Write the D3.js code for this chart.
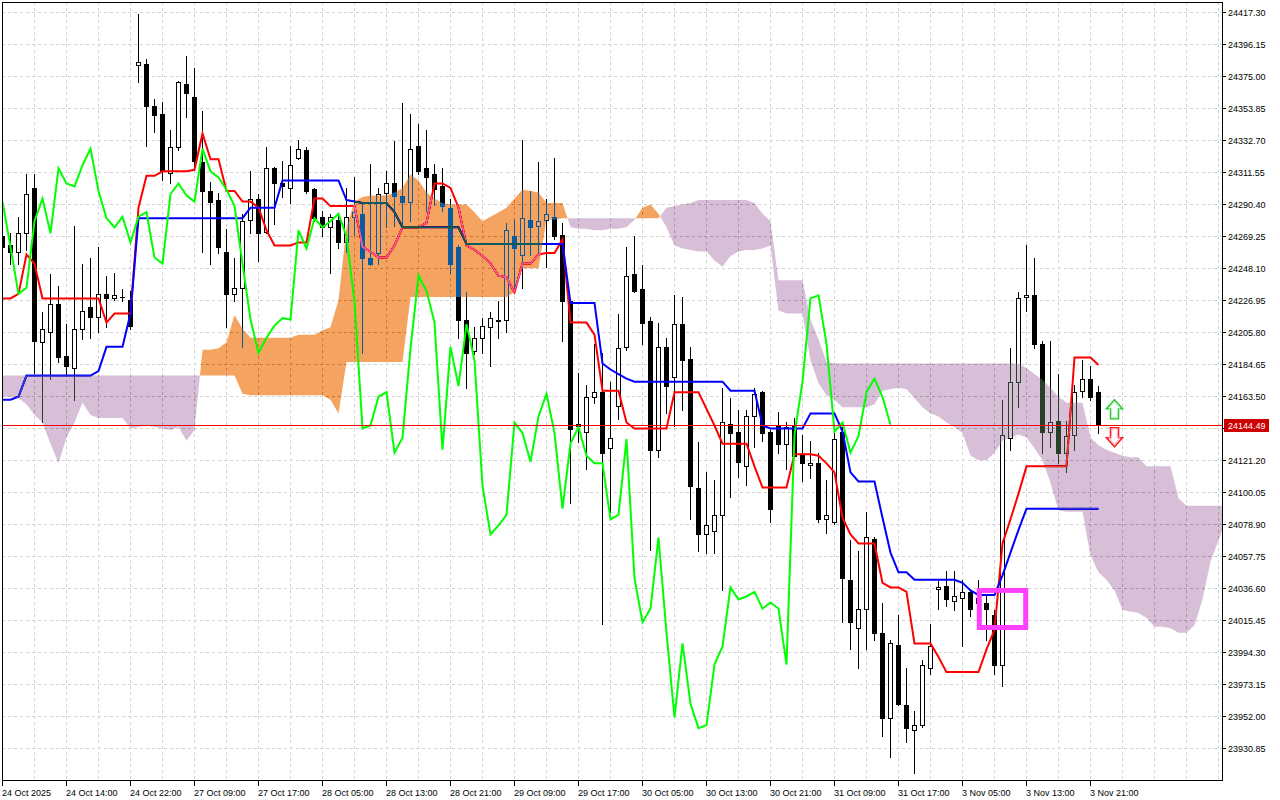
<!DOCTYPE html>
<html><head><meta charset="utf-8">
<script src="https://cdn.jsdelivr.net/npm/d3@7"></script>
<style>
html,body{margin:0;padding:0;background:#fff;}
svg{display:block;}
text{font-family:"Liberation Sans",Arial,sans-serif;}
</style></head><body>
<svg id="c" width="1280" height="800"></svg>
<script>
// ---------- data (H1 candles, Ichimoku) ----------
const opens=[24269,24263,24259,24271,24301,24199,24206,24224,24190,24182,
24208,24222,24216,24231,24228,24229,24227,24382,24383,24355,
24350,24311,24328,24370,24361,24318,24299,24293,24259,24231,
24235,24280,24294,24272,24314,24304,24301,24321,24326,24300,
24282,24275,24280,24265,24282,24284,24255,24258,24298,24304,
24296,24292,24329,24314,24310,24302,24288,24262,24214,24193,
24202,24209,24213,24214,24269,24257,24280,24276,24280,24282,
24270,24226,24145,24140,24163,24166,24129,24157,24196,24244,
24234,24213,24128,24196,24176,24211,24188,24103,24072,24074,
24085,24145,24140,24117,24150,24166,24140,24144,24132,24144,
24125,24118,24119,24082,24080,24140,24042,24010,24023,24069,
24007,23951,23999,23959,23943,23946,23984,24036,24038,24028,
24030,24034,24030,24027,24019,23986,24136,24173,24229,24230,
24198,24140,24147,24126,24138,24167,24175,24166];
const highs=[24275,24271,24282,24310,24310,24219,24244,24236,24211,24276,
24251,24255,24262,24243,24245,24234,24233,24416,24386,24360,
24358,24339,24372,24388,24380,24352,24305,24298,24274,24255,
24284,24312,24297,24328,24315,24319,24329,24333,24328,24301,
24286,24284,24284,24301,24308,24292,24317,24301,24312,24332,
24357,24350,24343,24339,24317,24314,24294,24263,24232,24209,
24215,24219,24226,24278,24280,24333,24299,24318,24294,24321,
24278,24227,24179,24171,24198,24192,24173,24218,24262,24269,
24250,24216,24212,24202,24230,24229,24196,24133,24113,24108,
24169,24162,24154,24154,24169,24167,24141,24153,24146,24149,
24138,24134,24126,24108,24140,24143,24068,24061,24087,24070,
24027,24002,24019,23984,23955,23989,24013,24041,24048,24048,
24042,24035,24042,24032,24022,24161,24195,24232,24263,24255,
24200,24200,24178,24147,24171,24187,24183,24170];
const lows=[24256,24251,24251,24260,24179,24146,24175,24186,24177,24161,
24201,24202,24206,24209,24227,24226,24208,24371,24329,24338,
24306,24304,24326,24348,24315,24259,24251,24258,24209,24226,
24196,24271,24253,24271,24277,24295,24291,24320,24298,24279,
24269,24245,24261,24259,24270,24192,24250,24251,24275,24276,
24276,24279,24310,24286,24290,24286,24245,24202,24169,24191,
24192,24183,24202,24206,24235,24235,24257,24257,24249,24267,
24200,24093,24133,24115,24159,24013,24087,24148,24194,24232,
24198,24062,24123,24152,24144,24154,24082,24061,24060,24060,
24035,24097,24110,24105,24130,24134,24080,24126,24115,24123,
24107,24109,24080,24073,24079,24014,23996,23984,23996,24002,
23939,23925,23959,23935,23914,23945,23980,24023,24025,24022,
23998,24018,24019,24002,23980,23972,24128,24156,24220,24195,
24126,24130,24119,24113,24128,24163,24161,24139];
const closes=[24262,24259,24271,24297,24200,24208,24224,24189,24183,24208,
24220,24216,24231,24228,24230,24229,24210,24384,24355,24349,
24312,24328,24371,24364,24319,24299,24292,24262,24231,24235,
24279,24294,24271,24314,24304,24302,24316,24327,24299,24281,
24275,24282,24265,24282,24285,24255,24251,24297,24304,24296,
24292,24327,24312,24308,24300,24289,24251,24214,24192,24202,
24210,24215,24214,24273,24261,24281,24275,24279,24284,24269,
24226,24142,24144,24163,24166,24126,24136,24195,24243,24233,
24212,24128,24196,24170,24211,24187,24104,24072,24078,24085,
24146,24139,24120,24150,24165,24139,24089,24132,24143,24124,
24119,24119,24082,24085,24135,24043,24014,24023,24070,24007,
23951,24000,23960,23944,23946,23986,23998,24037,24029,24031,
24034,24023,24027,24023,23986,24138,24173,24228,24230,24198,
24140,24146,24126,24137,24166,24175,24163,24144.49];
const tenkan=[24228,24228,24231,24257,24251,24228,24228,24228,24228,24228,
24228,24228,24228,24212,24218,24218,24218,24288,24309,24309,
24312,24312,24312,24312,24313,24337,24320,24320,24299,24299,
24292,24292,24288,24273,24263,24263,24263,24265,24265,24294,
24294,24289,24289,24289,24289,24262,24259,24255,24255,24263,
24275,24275,24275,24278,24304,24304,24301,24288,24263,24260,
24256,24251,24243,24242,24232,24251,24251,24257,24258,24258,
24267,24212,24212,24212,24204,24167,24167,24167,24146,24142,
24142,24142,24142,24142,24166,24166,24166,24166,24155,24144,
24132,24132,24132,24132,24117,24103,24103,24103,24103,24125,
24125,24125,24124,24119,24113,24083,24072,24066,24066,24066,
24040,24037,24037,24034,24000,24000,24000,23991,23981,23981,
23981,23981,23981,23996,24009,24066,24082,24099,24117,24117,
24117,24117,24117,24117,24189,24189,24189,24184];
const kijun=[24161,24161,24163,24177,24177,24177,24177,24177,24177,24177,
24177,24177,24180,24196,24196,24196,24218,24281,24281,24281,
24281,24281,24281,24281,24281,24281,24281,24281,24281,24281,
24281,24288,24288,24288,24288,24306,24306,24306,24306,24306,
24306,24306,24306,24293,24292,24291,24291,24291,24291,24285,
24275,24275,24275,24275,24275,24275,24275,24275,24264,24264,
24264,24264,24264,24264,24264,24264,24264,24264,24264,24264,
24264,24225,24225,24225,24225,24185,24181,24178,24175,24173,
24173,24173,24173,24173,24173,24173,24173,24173,24173,24173,
24173,24167,24167,24167,24167,24144,24142,24142,24142,24142,
24142,24152,24152,24152,24152,24140,24113,24107,24107,24107,
24083,24060,24047,24047,24042,24042,24042,24042,24042,24042,
24040,24035,24032,24032,24032,24045,24060,24075,24089,24089,
24089,24089,24089,24089,24089,24089,24089,24089];
// Chikou span: plotted 26 bars back
const chikou=[24292,24262,24231,24235,24279,24294,24271,24314,24304,24302,
24316,24327,24299,24281,24275,24282,24265,24282,24285,24255,
24251,24297,24304,24296,24292,24327,24312,24308,24300,24289,
24251,24214,24192,24202,24210,24215,24214,24273,24261,24281,
24275,24279,24284,24269,24226,24142,24144,24163,24166,24126,
24136,24195,24243,24233,24212,24128,24196,24170,24211,24187,
24104,24072,24078,24085,24146,24139,24120,24150,24165,24139,
24089,24132,24143,24124,24119,24119,24082,24085,24135,24043,
24014,24023,24070,24007,23951,24000,23960,23944,23946,23986,
23998,24037,24029,24031,24034,24023,24027,24023,23986,24138,
24173,24228,24230,24198,24140,24146,24126,24137,24166,24175,
24163,24144.49];
// Senkou spans (already shifted forward 26 bars)
const spanA=[24163,24163,24162,24158,24151,24146,24132,24119,24136,24146,
24159,24151,24149,24149,24149,24149,24142,24143,24144,24143,
24142,24141,24143,24134,24141,24194,24194,24195,24199,24217,
24208,24202,24202,24202,24202,24202,24202,24204,24204,24204,
24207,24209,24227,24275,24292,24295,24296,24296,24296,24298,
24301,24310,24306,24298,24294,24291,24290,24290,24290,24285,
24279,24282,24285,24288,24294,24300,24299,24298,24291,24291,
24291,24275,24274,24274,24273,24273,24274,24274,24275,24280,
24288,24290,24284,24275,24263,24261,24260,24259,24259,24253,
24249,24256,24259,24260,24260,24261,24263,24220,24218,24218,
24218,24187,24172,24164,24161,24156,24156,24156,24156,24158,
24167,24168,24169,24168,24162,24156,24152,24150,24146,24143,
24139,24124,24121,24121,24126,24134,24136,24138,24136,24129,
24121,24106,24088,24087,24087,24087,24058,24047,24042,24035,
24022,24021,24020,24017,24011,24011,24010,24007,24007,24012,
24029,24054,24068,24082];
const spanB=[24177,24177,24177,24177,24177,24177,24177,24177,24177,24177,
24177,24177,24177,24177,24177,24177,24177,24177,24177,24177,
24177,24177,24177,24177,24177,24177,24177,24177,24177,24177,
24165,24164,24164,24164,24164,24164,24164,24164,24164,24164,
24164,24161,24152,24186,24186,24186,24186,24186,24186,24186,
24186,24229,24229,24229,24229,24229,24229,24229,24229,24229,
24229,24229,24229,24229,24232,24248,24248,24248,24280,24280,
24281,24281,24281,24281,24281,24281,24281,24281,24281,24281,
24281,24281,24281,24288,24289,24290,24291,24293,24293,24293,
24293,24293,24293,24293,24291,24284,24279,24240,24240,24240,
24240,24214,24201,24186,24185,24185,24185,24185,24185,24185,
24185,24185,24185,24185,24185,24185,24185,24185,24185,24185,
24185,24185,24185,24185,24185,24185,24185,24185,24182,24178,
24174,24169,24163,24159,24159,24159,24136,24131,24128,24126,
24124,24123,24123,24117,24117,24117,24117,24096,24091,24091,
24091,24091,24091,24091];
const timeLabels=["24 Oct 2025","24 Oct 14:00","24 Oct 22:00","27 Oct 09:00","27 Oct 17:00",
"28 Oct 05:00","28 Oct 13:00","28 Oct 21:00","29 Oct 09:00","29 Oct 17:00","30 Oct 05:00",
"30 Oct 13:00","30 Oct 21:00","31 Oct 09:00","31 Oct 17:00","3 Nov 05:00","3 Nov 13:00","3 Nov 21:00"];
const timeLabelBars=[0,8,16,24,32,40,48,56,64,72,80,88,96,104,112,120,128,136];
const priceTicks=[24417.30,24396.15,24375.00,24353.85,24332.70,24311.55,24290.40,24269.25,
24248.10,24226.95,24205.80,24184.65,24163.50,24142.35,24121.20,24100.05,24078.90,24057.75,
24036.60,24015.45,23994.30,23973.15,23952.00,23930.85];
const lastPrice=24144.49;
const markBox={bar0:122.1,bar1:127.9,top:24035,bottom:24010.5};
const arrowBar=139;

// ---------- scales ----------
const L=2,T=2,R=1222,B=780;
const x=d3.scaleLinear().domain([0,137]).range([2.5,1098.5]);
const y=d3.scaleLinear().domain([23930.85,24417.30]).range([748,12]);
const svg=d3.select('#c');
svg.append('rect').attr('width',1280).attr('height',800).attr('fill','#fff');
svg.append('defs').append('clipPath').attr('id','clip')
  .append('rect').attr('x',L).attr('y',T).attr('width',R-L).attr('height',B-T);
const g=svg.append('g').attr('clip-path','url(#clip)');
g.append('rect').attr('x',0).attr('y',0).attr('width',1280).attr('height',800).attr('fill','#fff');

// grid
const gridBars=d3.range(0,156,4);
const grid=g.append('g').attr('shape-rendering','crispEdges');
grid.selectAll('line.v').data(gridBars).join('line').attr('class','v')
  .attr('x1',d=>x(d)).attr('x2',d=>x(d)).attr('y1',T).attr('y2',B)
  .attr('stroke','#d2d2d2').attr('stroke-dasharray','3,3');
grid.selectAll('line.h').data(priceTicks).join('line').attr('class','h')
  .attr('x1',L).attr('x2',R).attr('y1',d=>Math.round(y(d))+0.5).attr('y2',d=>Math.round(y(d))+0.5)
  .attr('stroke','#d2d2d2').attr('stroke-dasharray','3,3');

// candles
const idx=d3.range(closes.length);
const cg=g.append('g').attr('shape-rendering','crispEdges');
cg.selectAll('line.w').data(idx).join('line').attr('class','w')
  .attr('x1',i=>x(i)).attr('x2',i=>x(i))
  .attr('y1',i=>Math.round(y(highs[i]))).attr('y2',i=>Math.round(y(lows[i]))+1)
  .attr('stroke','#000');
const bodyTop=i=>Math.round(y(Math.max(opens[i],closes[i])));
const bodyBot=i=>Math.round(y(Math.min(opens[i],closes[i])));
cg.selectAll('rect.b').data(idx.filter(i=>bodyBot(i)-bodyTop(i)>=1)).join('rect').attr('class','b')
  .attr('x',i=>x(i)-2).attr('width',4)
  .attr('y',i=>bodyTop(i)+0.5).attr('height',i=>bodyBot(i)-bodyTop(i))
  .attr('fill',i=>closes[i]>=opens[i]?'#fff':'#000').attr('stroke','#000');
cg.selectAll('line.d').data(idx.filter(i=>bodyBot(i)-bodyTop(i)<1)).join('line').attr('class','d')
  .attr('x1',i=>x(i)-2.5).attr('x2',i=>x(i)+2.5)
  .attr('y1',i=>bodyTop(i)+0.5).attr('y2',i=>bodyTop(i)+0.5).attr('stroke','#000');

// tenkan / kijun
const ln=d3.line().x((d,i)=>x(i)).y(d=>y(d));
g.append('path').attr('d',ln(tenkan)).attr('fill','none').attr('stroke','#ff0000').attr('stroke-width',2);
g.append('path').attr('d',ln(kijun)).attr('fill','none').attr('stroke','#0000ff').attr('stroke-width',2);

// cloud (drawn inverted with difference blend, like the terminal's XOR fill)
const pts=[];
for(let i=0;i<spanA.length;i++){
  pts.push({i:i,a:spanA[i],b:spanB[i]});
  if(i<spanA.length-1){
    const d0=spanA[i]-spanB[i], d1=spanA[i+1]-spanB[i+1];
    if(d0*d1<0){
      const t=d0/(d0-d1);
      const v=spanA[i]+t*(spanA[i+1]-spanA[i]);
      pts.push({i:i+t,a:v,b:v});
    }
  }
}
const upArea=d3.area().x(d=>x(d.i)).y0(d=>y(d.b)).y1(d=>y(Math.max(d.a,d.b)));
const dnArea=d3.area().x(d=>x(d.i)).y0(d=>y(d.a)).y1(d=>y(Math.max(d.a,d.b)));
g.append('path').attr('d',upArea(pts)).attr('fill','#0b5b9f').style('mix-blend-mode','difference');
g.append('path').attr('d',dnArea(pts)).attr('fill','#274027').style('mix-blend-mode','difference');

// chikou
g.append('path').attr('d',ln(chikou)).attr('fill','none').attr('stroke','#00ff00').attr('stroke-width',2);

// current price line
const py=Math.round(y(lastPrice))+0.5;
svg.append('line').attr('x1',L).attr('x2',R).attr('y1',py).attr('y2',py)
  .attr('stroke','#ff0000').attr('stroke-width',1).attr('shape-rendering','crispEdges');

// marked box
g.append('rect').attr('x',x(markBox.bar0)).attr('y',y(markBox.top))
  .attr('width',x(markBox.bar1)-x(markBox.bar0)).attr('height',y(markBox.bottom)-y(markBox.top))
  .attr('fill','none').attr('stroke','#ff40ff').attr('stroke-width',5);

// arrows
const ax=x(arrowBar);
const upPts=[[0,-19],[8,-10],[4,-10],[4,0],[-4,0],[-4,-10],[-8,-10]];
const dnPts=[[0,19],[8,10],[4,10],[4,0],[-4,0],[-4,10],[-8,10]];
const upBase=y(lastPrice)-6, dnBase=y(lastPrice)+3;
g.append('polygon').attr('points',upPts.map(p=>[ax+p[0],upBase+p[1]].join(',')).join(' '))
  .attr('fill','#fff').attr('stroke','#33cc33').attr('stroke-width',1.6);
g.append('polygon').attr('points',upPts.map(p=>[ax+p[0]*0.7,upBase-1+p[1]*0.85].join(',')).join(' '))
  .attr('fill','none').attr('stroke','#a8f0d8').attr('stroke-width',0.8);
g.append('polygon').attr('points',dnPts.map(p=>[ax+p[0],dnBase+p[1]].join(',')).join(' '))
  .attr('fill','#fff').attr('stroke','#ff2020').attr('stroke-width',1.6);
g.append('polygon').attr('points',dnPts.map(p=>[ax+p[0]*0.7,dnBase+1+p[1]*0.85].join(',')).join(' '))
  .attr('fill','none').attr('stroke','#ff9ec8').attr('stroke-width',0.8);

// frame & axes
const fr=svg.append('g').attr('shape-rendering','crispEdges');
fr.append('rect').attr('x',L+0.5).attr('y',T+0.5).attr('width',R-L).attr('height',B-T)
  .attr('fill','none').attr('stroke','#000');
fr.selectAll('line.pt').data(priceTicks).join('line').attr('class','pt')
  .attr('x1',R).attr('x2',R+4).attr('y1',d=>Math.round(y(d))+0.5).attr('y2',d=>Math.round(y(d))+0.5).attr('stroke','#000');
// the tick label hidden under the last-price tag is not drawn
const shownTicks=priceTicks.filter(d=>Math.abs(y(d)-y(lastPrice))>10);
svg.selectAll('text.pt').data(shownTicks).join('text').attr('class','pt')
  .attr('x',R+6).attr('y',d=>Math.round(y(d))+0.5).attr('dy','0.35em')
  .attr('font-size','9px').attr('fill','#000').text(d=>d.toFixed(2));
fr.selectAll('line.tt').data(timeLabelBars).join('line').attr('class','tt')
  .attr('x1',d=>x(d)).attr('x2',d=>x(d)).attr('y1',B).attr('y2',B+6).attr('stroke','#000');
svg.selectAll('text.tt').data(timeLabels).join('text').attr('class','tt')
  .attr('x',(d,i)=>x(timeLabelBars[i])-0.5).attr('y',796)
  .attr('font-size','9px').attr('fill','#000').text(d=>d);

// last price label
svg.append('rect').attr('x',R+2).attr('y',py-6.5).attr('width',45).attr('height',13).attr('fill','#cc0000');
svg.append('text').attr('x',R+6).attr('y',py).attr('dy','0.35em').attr('font-size','9px')
  .attr('fill','#fff').text(lastPrice.toFixed(2));
</script>
</body></html>
